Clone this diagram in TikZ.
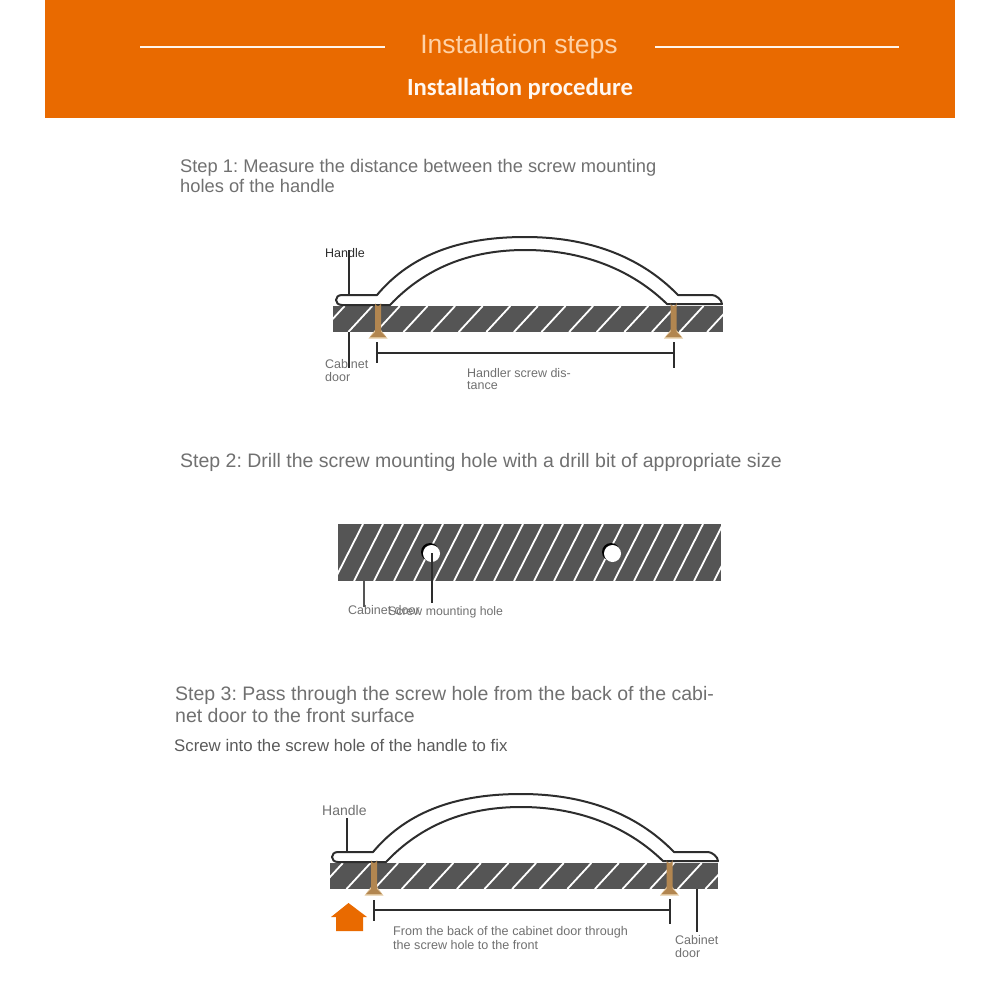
\documentclass[tikz,border=0pt]{standalone}
\usepackage{fontspec}
\setmainfont{Liberation Sans}
\newfontfamily\headfont{Carlito}
\usetikzlibrary{positioning}
\definecolor{bannerorange}{RGB}{233,106,0}
\definecolor{doorgray}{RGB}{85,85,85}
\definecolor{screwtan}{RGB}{178,134,80}
\definecolor{screwpale}{RGB}{226,200,160}
\definecolor{stepgray}{RGB}{112,112,112}
\definecolor{inkdark}{RGB}{45,45,45}
\tikzset{
  steptext/.style={anchor=west,inner sep=0pt,text=stepgray,font=\fontsize{19.5}{22}\selectfont,align=left},
  labeltext/.style={anchor=west,inner sep=0pt,text=stepgray,font=\fontsize{12.5}{12.5}\selectfont,align=left},
  leader/.style={draw=inkdark,line width=2pt},
  hatchline/.style={draw=white,line width=1.8pt},
  pics/handleset/.style={code={
    \draw[fill=white,draw=inkdark,line width=2pt,line join=round]
      (377,295) .. controls (413,252) and (465,237) .. (525,237)
      .. controls (588,237) and (640,256) .. (678,295) -- (712,295)
      .. controls (716,295) and (722,300) .. (722,304) -- (667,304)
      .. controls (630,268) and (580,250) .. (525,250)
      .. controls (470,250) and (425,268) .. (390,305) -- (342,305)
      .. controls (334,305) and (334,295) .. (342,295) -- cycle;
    % screws lie over the handle foot
    \foreach \sx in {378,673.5}{
      \fill[screwpale] (\sx,326) -- (\sx+9.5,338.5) -- (\sx-9.5,338.5) -- cycle;
      \fill[screwtan] (\sx-3,332) -- (\sx-3,303) arc (180:0:3) -- (\sx+3,332) -- (\sx+8,337) -- (\sx-8,337) -- cycle;
    }
  }}
}

\begin{document}
\begin{tikzpicture}[x=1pt,y=-1pt]
  \useasboundingbox (0,0) rectangle (1000,1000);
  \frenchspacing

  % -- Banner --
  \fill[bannerorange] (45,0) rectangle (955,118);
  \node[text=orange!35!white,inner sep=0pt,font=\fontsize{26.5}{26.5}\selectfont] (titlemain) at (519,47) {Installation steps};
  \node[text=white!94!orange,inner sep=0pt,font=\headfont\bfseries\fontsize{24.7}{25}\selectfont] (titlesub) at (520,89) {Installation procedure};
  \draw[white!92!orange,line width=2pt] (140,47) -- (385,47);
  \draw[white!92!orange,line width=2pt] (655,47) -- (899,47);

  % -- Step 1 --
  \node[steptext,font=\fontsize{18.3}{20}\selectfont] (stepone) at (180,176) {Step 1: Measure the distance between the screw mounting\\holes of the handle};
  \fill[doorgray] (333,306) rectangle (723,332);
  \begin{scope}
    \clip (333,306) rectangle (723,332);
    \foreach \k in {-1,...,13}{
      \draw[hatchline] (348.3+27.6*\k,332) -- ++(24,-26);
    }
  \end{scope}
  \pic at (0,0) {handleset};
  \node[labeltext,text=inkdark] (handleone) at (325,253.5) {Handle};
  \node[labeltext] (cabinetone) at (325,370.5) {Cabinet\\door};
  \node[labeltext] (distance) at (467,379) {Handler screw dis-\\tance};
  \draw[leader] (349,250) -- (349,295);
  \draw[leader] (349,332) -- (349,368);
  \draw[leader] (377,342) -- (377,363);
  \draw[leader] (377,353) -- (673.5,353);
  \draw[leader] (673.5,342) -- (673.5,368);

  % -- Step 2 --
  \node[steptext] (steptwo) at (180,462) {Step 2: Drill the screw mounting hole with a drill bit of appropriate size};
  \fill[doorgray] (338,524) rectangle (721,581);
  \begin{scope}
    \clip (338,524) rectangle (721,581);
    \foreach \k in {-1,...,19}{
      \draw[hatchline] (354+20*\k,581) -- ++(29,-57);
    }
  \end{scope}
  \foreach \hx/\hname in {431/holeleft,612/holeright}{
    \fill[black] (\hx-1,552) circle (9);
    \node[circle,fill=white,inner sep=0pt,minimum size=17pt] (\hname) at (\hx+0.5,553.5) {};
  }
  \node[labeltext] (cabinettwo) at (348,610) {Cabinet door};
  \node[labeltext,font=\fontsize{12.3}{12.5}\selectfont] (holelabel) at (388,612.5) {Screw mounting hole};
  \draw[leader,draw=doorgray] (364,581) -- (364,607);
  \draw[leader,draw=inkdark] (431.5,553) -- (431.5,603);

  % -- Step 3 --
  \node[steptext] (stepthree) at (175,705) {Step 3: Pass through the screw hole from the back of the cabi-\\net door to the front surface};
  \node[steptext,text=stepgray!80!black,font=\fontsize{16.8}{20}\selectfont] (stepfix) at (174,745) {Screw into the screw hole of the handle to fix};
  \fill[doorgray] (330,863) rectangle (718,889);
  \begin{scope}
    \clip (330,863) rectangle (718,889);
    \foreach \k in {-1,...,13}{
      \draw[hatchline] (346.5+27.6*\k,889) -- ++(24,-26);
    }
  \end{scope}
  \pic at (-4,557) {handleset};
  \node[labeltext,font=\fontsize{14}{14}\selectfont] (handlethree) at (322,810) {Handle};
  \node[labeltext] (cabinetthree) at (675,946.5) {Cabinet\\door};
  \node[labeltext,font=\fontsize{12.6}{14}\selectfont] (backnote) at (393,938) {From the back of the cabinet door through\\the screw hole to the front};
  \draw[leader] (346.7,818) -- (346.7,852);
  \draw[leader] (696.7,889) -- (696.7,932);
  \draw[leader] (373.5,900) -- (373.5,921);
  \draw[leader] (373.5,910) -- (669.5,910);
  \draw[leader] (669.5,899) -- (669.5,924);
  \fill[bannerorange] (348.5,903) -- (367,917) -- (363,917) -- (363,931) -- (336,931) -- (336,917) -- (331,917) -- cycle;
\end{tikzpicture}
\end{document}
